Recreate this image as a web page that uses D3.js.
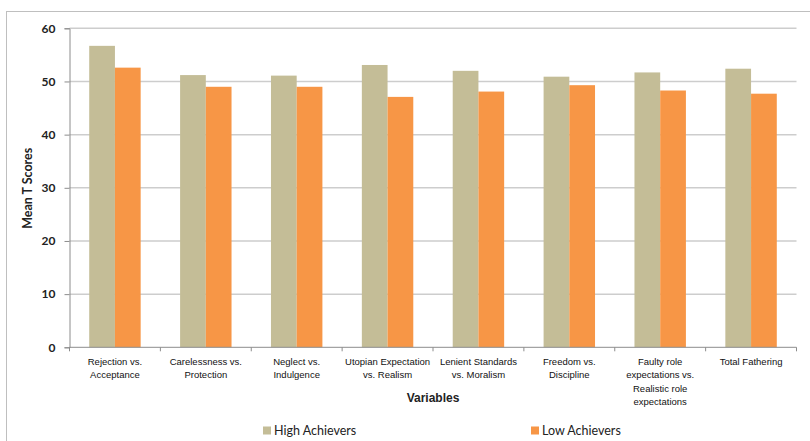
<!DOCTYPE html>
<html><head><meta charset="utf-8">
<script src="https://cdn.jsdelivr.net/npm/d3@7"></script>
<style>body{margin:0;background:#fff}svg{display:block}</style>
</head><body>
<script>
const categories = [
  ["Rejection vs.", "Acceptance"],
  ["Carelessness vs.", "Protection"],
  ["Neglect vs.", "Indulgence"],
  ["Utopian Expectation", "vs. Realism"],
  ["Lenient Standards", "vs. Moralism"],
  ["Freedom vs.", "Discipline"],
  ["Faulty role", "expectations vs.", "Realistic role", "expectations"],
  ["Total Fathering"]
];
const seriesNames = ["High Achievers", "Low Achievers"];
const highAchievers = [56.7, 51.2, 51.1, 53.1, 52.0, 50.9, 51.7, 52.4];
const lowAchievers  = [52.6, 49.0, 49.0, 47.1, 48.1, 49.3, 48.3, 47.7];
const yTicks = [0, 10, 20, 30, 40, 50, 60];
const colors = ["#c4bd97", "#f79646"];

(function () {
const W = 810, H = 441;
const svg = d3.select("body").append("svg").attr("width", W).attr("height", H);

// outer frame
svg.append("rect").attr("x", 6.5).attr("y", 11.5).attr("width", 820).attr("height", 440)
  .attr("fill", "none").attr("stroke", "#bfbfbf").attr("stroke-width", 1);

const pL = 69.5, pR = 796.5, pT = 28.3, pB = 347.3;
const x0 = d3.scaleBand().domain(d3.range(categories.length)).range([pL, pR]).paddingInner(0.434).paddingOuter(0.217);
const x1 = d3.scaleBand().domain([0, 1]).range([0, x0.bandwidth()]);
const y = d3.scaleLinear().domain([0, 60]).range([pB, pT]);

// gridlines
svg.append("g").selectAll("line").data(yTicks.filter(d => d > 0)).join("line")
  .attr("x1", pL).attr("x2", pR).attr("y1", d => y(d)).attr("y2", d => y(d))
  .attr("stroke", "#cdcdcd").attr("stroke-width", 1.5);

// bars
const data = [highAchievers, lowAchievers];
const g = svg.append("g");
categories.forEach((c, i) => {
  data.forEach((s, j) => {
    g.append("rect")
      .attr("x", x0(i) + x1(j)).attr("width", x1.bandwidth())
      .attr("y", y(s[i])).attr("height", y(0) - y(s[i]))
      .attr("fill", colors[j]);
  });
});

// y axis
const yAxis = d3.axisLeft(y).tickValues(yTicks).tickSize(5).tickPadding(9);
const ya = svg.append("g").attr("transform", `translate(${pL},0)`).call(yAxis);
ya.select(".domain").attr("stroke", "#8c8c8c");
ya.selectAll(".tick line").attr("stroke", "#8c8c8c");
ya.selectAll(".tick text").attr("font-family", "Lato, 'Open Sans', sans-serif")
  .attr("font-size", 12).attr("font-weight", "bold").attr("fill", "#222");

// x axis
const xb = d3.scaleLinear().domain([0, categories.length]).range([pL, pR]);
svg.append("line").attr("x1", pL).attr("x2", pR).attr("y1", pB).attr("y2", pB)
  .attr("stroke", "#8c8c8c");
svg.append("g").selectAll("line").data(d3.range(categories.length + 1)).join("line")
  .attr("x1", d => xb(d)).attr("x2", d => xb(d)).attr("y1", pB).attr("y2", pB + 4)
  .attr("stroke", "#8c8c8c");

const labels = svg.append("g").attr("font-family", "'Liberation Sans Narrow', 'Liberation Sans', Arial, sans-serif")
  .attr("font-size", 9.5).attr("fill", "#111").attr("text-anchor", "middle");
categories.forEach((c, i) => {
  const cx = x0(i) + x0.bandwidth() / 2;
  const t = labels.append("text").attr("x", cx).attr("y", 365);
  c.forEach((line, k) => {
    t.append("tspan").attr("x", cx).attr("dy", k === 0 ? 0 : 13.3).text(line);
  });
});

// axis titles
svg.append("text").attr("x", (pL + pR) / 2).attr("y", 402).attr("text-anchor", "middle")
  .attr("font-family", "'Liberation Sans Narrow', 'Liberation Sans', Arial, sans-serif")
  .attr("font-size", 12).attr("font-weight", "bold").attr("fill", "#222").text("Variables");
svg.append("text").attr("transform", `translate(31.5,${(pT + pB) / 2 + 0.5}) rotate(-90)`)
  .attr("text-anchor", "middle")
  .attr("font-family", "Lato, 'Open Sans', sans-serif")
  .attr("font-size", 12.5).attr("font-weight", "bold").attr("fill", "#222").text("Mean T Scores");

// legend
const legX = [263, 531];
seriesNames.forEach((n, j) => {
  svg.append("rect").attr("x", legX[j]).attr("y", 426.5).attr("width", 8).attr("height", 8).attr("fill", colors[j]);
  svg.append("text").attr("x", legX[j] + 11).attr("y", 435)
    .attr("font-family", "Lato, 'Open Sans', sans-serif").attr("font-size", 12.5).attr("fill", "#222").text(n);
});
})();
</script>
</body></html>
